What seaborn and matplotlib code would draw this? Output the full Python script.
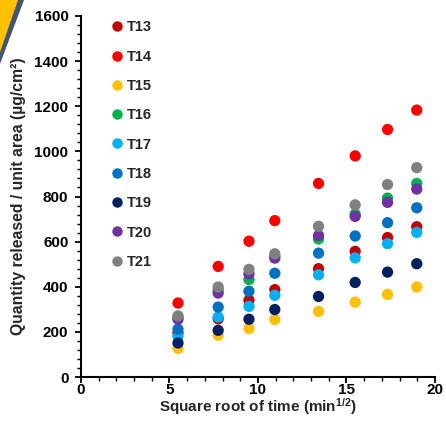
import matplotlib
matplotlib.use("Agg")
import matplotlib.pyplot as plt
from matplotlib.patches import Polygon
from matplotlib.lines import Line2D
from matplotlib.ticker import MultipleLocator
import seaborn as sns
import pandas as pd

sqrt_time = [5.48, 7.75, 9.49, 10.95, 13.42, 15.49, 17.32, 18.97]
series_names = ["T13", "T14", "T15", "T16", "T17", "T18", "T19", "T20", "T21"]
T13 = [195, 258, 340, 387, 480, 557, 618, 666]
T14 = [328, 490, 602, 693, 858, 980, 1097, 1183]
T15 = [127, 185, 215, 255, 291, 332, 366, 399]
T16 = [265, 385, 432, 535, 612, 722, 793, 858]
T17 = [181, 266, 313, 362, 453, 528, 591, 641]
T18 = [212, 310, 380, 460, 549, 625, 684, 750]
T19 = [151, 207, 256, 299, 357, 419, 465, 502]
T20 = [256, 372, 457, 527, 627, 712, 774, 833]
T21 = [271, 399, 477, 546, 668, 763, 853, 928]
values = [T13, T14, T15, T16, T17, T18, T19, T20, T21]
colors = ["#C00000", "#FF0000", "#FFC000", "#00B050", "#00B0F0",
          "#0070C0", "#002060", "#7030A0", "#808080"]

rows = []
for name, vals in zip(series_names, values):
    for x, y in zip(sqrt_time, vals):
        rows.append({"x": x, "y": y, "series": name})
df = pd.DataFrame(rows)

sns.set_style("white")
plt.rcParams["font.family"] = ["Liberation Sans", "DejaVu Sans"]
plt.rcParams["font.weight"] = "bold"
plt.rcParams["mathtext.fontset"] = "custom"
plt.rcParams["mathtext.rm"] = "Liberation Sans:bold"
plt.rcParams["mathtext.default"] = "rm"

fig = plt.figure(figsize=(4.46, 4.22), dpi=100)
ax = fig.add_axes([0.1816, 0.1066, 0.7937, 0.8555])

palette = dict(zip(series_names, colors))
sns.scatterplot(data=df, x="x", y="y", hue="series", hue_order=series_names,
                palette=palette, s=66, linewidth=0, ax=ax, legend=False)

ax.set_xlim(0, 20)
ax.set_ylim(0, 1600)
ax.xaxis.set_major_locator(MultipleLocator(5))
ax.xaxis.set_minor_locator(MultipleLocator(1))
ax.yaxis.set_major_locator(MultipleLocator(200))
ax.yaxis.set_minor_locator(MultipleLocator(40))

for side in ["top", "right"]:
    ax.spines[side].set_visible(False)
for side in ["left", "bottom"]:
    ax.spines[side].set_color("black")
    ax.spines[side].set_linewidth(1.5)

ax.tick_params(which="major", direction="out", length=4, width=1.3,
               labelsize=11, colors="black")
ax.tick_params(axis="x", which="major", pad=0)
ax.tick_params(axis="y", which="major", pad=5)
ax.tick_params(which="minor", direction="out", length=3, width=1.0, colors="black")
ax.tick_params(axis="x", which="both", bottom=True)
ax.tick_params(axis="y", which="both", left=True)
for lab in ax.get_xticklabels() + ax.get_yticklabels():
    lab.set_fontweight("bold")

ax.set_xlabel("Square root of time (min$^{1/2}$)", fontsize=11,
              fontweight="bold", labelpad=0)
ax.set_ylabel("Quantity released / unit area (µg/cm²)", fontsize=11.3,
              fontweight="bold", labelpad=6)

handles = [Line2D([], [], linestyle="none", marker="o", markersize=7.5,
                  markerfacecolor=c, markeredgewidth=0) for c in colors]
leg = ax.legend(handles, series_names, loc="upper left",
                bbox_to_anchor=(0.08, 0.988),
                frameon=False, borderaxespad=0, borderpad=0,
                handletextpad=0.2, handlelength=1.0, labelspacing=1.05,
                prop={"weight": "bold", "size": 10.5})

# decorative corner
W, H = 446.0, 422.0
yellow = Polygon([(0, 1), (19 / W, 1), (0, 1 - 52 / H)], closed=True,
                 transform=fig.transFigure, facecolor="#FFC000", edgecolor="none")
blue = Polygon([(18 / W, 1), (24 / W, 1), (0, 1 - 64 / H), (0, 1 - 52 / H)],
               closed=True, transform=fig.transFigure, facecolor="#44546A",
               edgecolor="none")
fig.add_artist(yellow)
fig.add_artist(blue)

fig.savefig("out.png", dpi=100)
